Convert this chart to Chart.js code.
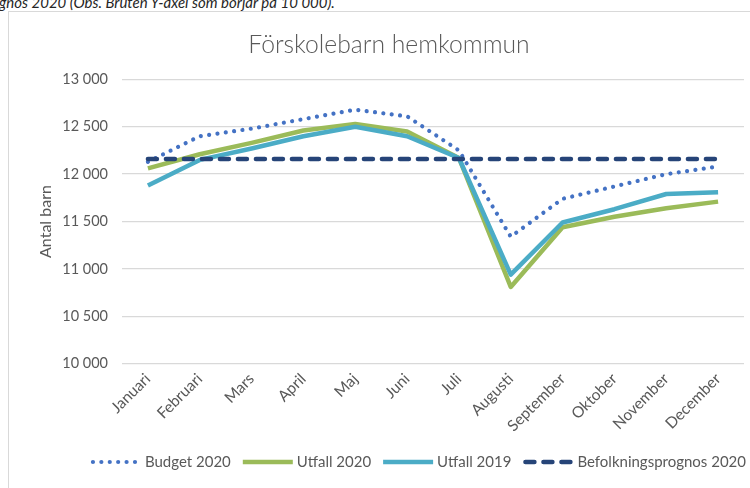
<!DOCTYPE html>
<html><head><meta charset="utf-8">
<script src="https://cdn.jsdelivr.net/npm/chart.js@4"></script>
<style>
html,body{margin:0;padding:0;width:750px;height:488px;overflow:hidden;background:#fff;}
#note{position:absolute;left:-1px;top:-7px;font:italic 15px Lato;line-height:18px;color:#262626;white-space:nowrap;}
#frame{position:absolute;left:8px;top:11px;width:760px;height:477px;border-left:1px solid #d9d9d9;border-top:1px solid #d9d9d9;}
canvas{display:block;}
</style></head><body>
<div id="note">gnos 2020 (Obs. Bruten Y-axel som börjar på 10 000).</div>
<div id="frame"><canvas id="c" width="760" height="476"></canvas></div>
<script>
const months = ['Januari','Februari','Mars','April','Maj','Juni','Juli','Augusti','September','Oktober','November','December'];
const budget2020 = [12130, 12400, 12480, 12580, 12680, 12610, 12250, 11340, 11740, 11870, 12000, 12080];
const utfall2020 = [12060, 12210, 12330, 12460, 12530, 12450, 12170, 10810, 11440, 11550, 11640, 11710];
const utfall2019 = [11880, 12150, 12270, 12400, 12500, 12400, 12170, 10940, 11490, 11630, 11790, 11810];
const prognos2020 = [12160, 12160, 12160, 12160, 12160, 12160, 12160, 12160, 12160, 12160, 12160, 12160];
const seriesNames = ['Budget 2020','Utfall 2020','Utfall 2019','Befolkningsprognos 2020'];
const chartTitle = 'Förskolebarn hemkommun';
const yTitle = 'Antal barn';

const FONT = 'Lato';
const GRAY = '#595959';
const LEGEND_RIGHT = 737;
const LEGEND_Y = 450;

function fmt(v){ return String(v).replace(/\B(?=(\d{3})+(?!\d))/g, ' '); }

const layoutPlugin = {
  id: 'titleShift',
  afterLayout(chart){
    if (chart.titleBlock) { chart.titleBlock.right = chart.width; }
  }
};

const legendPlugin = {
  id: 'customLegend',
  afterDraw(chart){
    const ctx = chart.ctx;
    ctx.save();
    ctx.font = '15px ' + FONT;
    const sw = 50, gapT = 4, gapI = 12;
    const items = chart.data.datasets.map(ds => ({ds, w: ctx.measureText(ds.label).width}));
    const total = items.reduce((a, it) => a + sw + gapT + it.w, 0) + gapI * (items.length - 1);
    let x = LEGEND_RIGHT - total;
    const y = LEGEND_Y;
    items.forEach(it => {
      const ds = it.ds;
      const cap = ds.borderCapStyle === 'round';
      ctx.beginPath();
      ctx.strokeStyle = ds.borderColor;
      ctx.lineWidth = ds.borderWidth;
      ctx.lineCap = ds.borderCapStyle || 'butt';
      ctx.setLineDash(ds.borderDash || []);
      ctx.moveTo(x + (cap ? 2 : 0), y);
      ctx.lineTo(x + sw - (cap ? 2 : 0), y);
      ctx.stroke();
      ctx.setLineDash([]);
      ctx.fillStyle = GRAY;
      ctx.textBaseline = 'middle';
      ctx.textAlign = 'left';
      ctx.fillText(ds.label, x + sw + gapT, y);
      x += sw + gapT + it.w + gapI;
    });
    ctx.restore();
  }
};

new Chart(document.getElementById('c'), {
  type: 'line',
  data: {
    labels: months,
    datasets: [
      {label: seriesNames[0], data: budget2020, borderColor: '#4472c4', borderWidth: 4.2, borderDash: [0.01, 8.4], borderCapStyle: 'round', borderJoinStyle: 'round', pointRadius: 0, order: 3},
      {label: seriesNames[1], data: utfall2020, borderColor: '#9bbb59', borderWidth: 4.5, borderJoinStyle: 'round', pointRadius: 0, order: 2},
      {label: seriesNames[2], data: utfall2019, borderColor: '#4bacc6', borderWidth: 4.5, borderJoinStyle: 'round', pointRadius: 0, order: 1},
      {label: seriesNames[3], data: prognos2020, borderColor: '#264478', borderWidth: 4.5, borderDash: [9, 9], borderCapStyle: 'round', pointRadius: 0, order: 0}
    ]
  },
  options: {
    responsive: false,
    animation: false,
    devicePixelRatio: 1,
    layout: {padding: {left: 0, right: 25, top: 0, bottom: 0}},
    plugins: {
      legend: {display: false},
      tooltip: {enabled: false},
      title: {display: true, text: chartTitle, color: GRAY, font: {family: FONT, size: 24.7, weight: '300', lineHeight: 1.2}, padding: {top: 18.2, bottom: 19.5}}
    },
    scales: {
      x: {
        offset: true,
        grid: {display: false, drawTicks: false},
        border: {display: false},
        ticks: {color: GRAY, font: {family: FONT, size: 15.5}, minRotation: 45, maxRotation: 45, autoSkip: false, padding: 6},
        afterFit(s){ s.height = 124.3; }
      },
      y: {
        min: 10000, max: 13000,
        ticks: {stepSize: 500, color: GRAY, font: {family: FONT, size: 14.5}, padding: 14, callback: v => fmt(v)},
        grid: {color: '#d9d9d9', lineWidth: 1.3, drawTicks: false},
        border: {display: false},
        title: {display: true, text: yTitle, color: GRAY, font: {family: FONT, size: 16}, padding: {top: 27.4, bottom: 0}},
        afterFit(s){ s.width = 113; }
      }
    }
  },
  plugins: [layoutPlugin, legendPlugin]
});
</script>
</body></html>
